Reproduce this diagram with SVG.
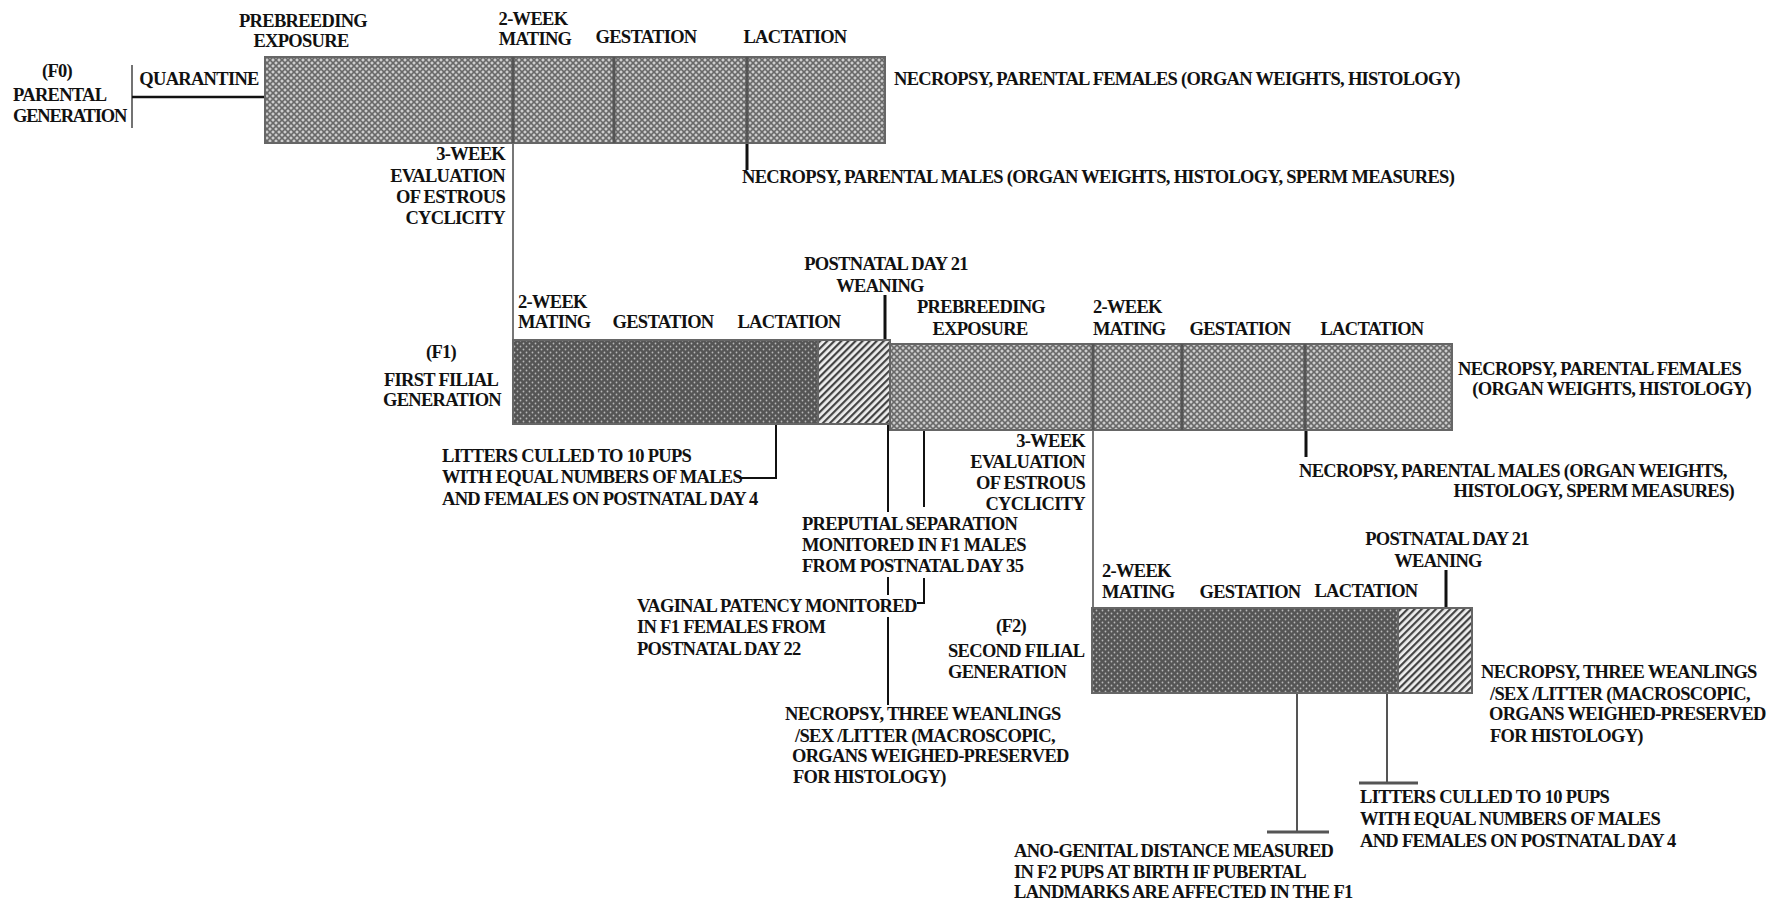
<svg xmlns="http://www.w3.org/2000/svg" width="1775" height="901" viewBox="0 0 1775 901">
<style>
.t{font-family:"Liberation Serif","Times New Roman",serif;font-weight:bold;font-size:18.5px;letter-spacing:-0.7px;fill:#111}
.m{text-anchor:middle}
.e{text-anchor:end}
.bar{stroke:#666;stroke-width:2}
.div{stroke:#555;stroke-width:3}
.blk{stroke:#111;stroke-width:2;fill:none}
.thk{stroke:#111;stroke-width:3;fill:none}
.gry{stroke:#777;stroke-width:2;fill:none}
.cap{stroke:#555;stroke-width:3;fill:none}
</style>
<defs>
<pattern id="cross" width="6" height="6" patternUnits="userSpaceOnUse">
<rect width="6" height="6" fill="#9c9c9c"/>
<path d="M0 0L6 6M6 0L0 6" stroke="#666" stroke-width="1.1"/>
<circle cx="3" cy="0" r="1" fill="#dcdcdc"/>
<circle cx="3" cy="6" r="1" fill="#dcdcdc"/>
<circle cx="0" cy="3" r="1" fill="#dcdcdc"/>
<circle cx="6" cy="3" r="1" fill="#dcdcdc"/>
</pattern>
<pattern id="dots" width="6" height="6" patternUnits="userSpaceOnUse">
<rect width="6" height="6" fill="#555"/>
<circle cx="1.5" cy="1.5" r="0.9" fill="#b8b8b8"/>
<circle cx="4.5" cy="4.5" r="0.9" fill="#b8b8b8"/>
</pattern>
<pattern id="hatch" width="5" height="5" patternUnits="userSpaceOnUse" patternTransform="rotate(45)">
<rect width="5" height="5" fill="#eee"/>
<rect x="0" y="0" width="2.2" height="5" fill="#444"/>
</pattern>
</defs>

<g id="connectors">
<line class="gry" x1="132" y1="65" x2="132" y2="128" style="stroke:#444;stroke-width:1.5"/>
<line class="thk" x1="132" y1="97" x2="265" y2="97" style="stroke-width:2.5"/>
<line class="gry" x1="513" y1="143" x2="513" y2="340"/>
<line class="thk" x1="747" y1="143" x2="747" y2="170"/>
<line class="thk" x1="885" y1="295" x2="885" y2="340"/>
<polyline class="blk" points="776,424 776,478 739,478"/>
<line class="blk" x1="888" y1="424" x2="888" y2="512"/>
<line class="blk" x1="924" y1="430" x2="924" y2="507"/>
<line class="blk" x1="888" y1="577" x2="888" y2="595"/>
<polyline class="blk" points="924,578 924,603 917,603"/>
<line class="blk" x1="888" y1="617" x2="888" y2="705"/>
<line class="gry" x1="1093" y1="430" x2="1093" y2="608"/>
<line class="thk" x1="1306" y1="430" x2="1306" y2="457"/>
<line class="thk" x1="1446" y1="570" x2="1446" y2="608"/>
<line class="gry" x1="1297" y1="693" x2="1297" y2="832" style="stroke:#555"/>
<line class="cap" x1="1267" y1="832" x2="1329" y2="832"/>
<line class="gry" x1="1387" y1="693" x2="1387" y2="783" style="stroke:#555"/>
<line class="cap" x1="1359" y1="783" x2="1418" y2="783"/>
</g>

<g id="f0-label">
<text class="t m" x="57" y="77">(F0)</text>
<text class="t" x="13" y="101">PARENTAL</text>
<text class="t" x="13" y="122" style="letter-spacing:-1.2px">GENERATION</text>
</g>
<g id="f0-quarantine"><text class="t m" x="199" y="85">QUARANTINE</text></g>
<g id="f0-bar">
<rect class="bar" x="265" y="57" width="620" height="86" fill="url(#cross)"/>
<line class="div" x1="513" y1="57" x2="513" y2="143"/>
<line class="div" x1="614" y1="57" x2="614" y2="143"/>
<line class="div" x1="747" y1="57" x2="747" y2="143"/>
</g>
<g id="f0-phases">
<text class="t m" x="303" y="27">PREBREEDING</text>
<text class="t m" x="301" y="47">EXPOSURE</text>
<text class="t m" x="533" y="25">2-WEEK</text>
<text class="t m" x="535" y="45">MATING</text>
<text class="t m" x="646" y="43">GESTATION</text>
<text class="t m" x="795" y="43">LACTATION</text>
</g>
<g id="f0-necropsy-females"><text class="t" x="894" y="85">NECROPSY, PARENTAL FEMALES (ORGAN WEIGHTS, HISTOLOGY)</text></g>
<g id="f0-necropsy-males"><text class="t" x="742" y="183">NECROPSY, PARENTAL MALES (ORGAN WEIGHTS, HISTOLOGY, SPERM MEASURES)</text></g>
<g id="f0-estrous">
<text class="t e" x="505" y="160">3-WEEK</text>
<text class="t e" x="505" y="182">EVALUATION</text>
<text class="t e" x="505" y="203">OF ESTROUS</text>
<text class="t e" x="505" y="224">CYCLICITY</text>
</g>

<g id="f1-label">
<text class="t m" x="441" y="358">(F1)</text>
<text class="t m" x="441" y="386">FIRST FILIAL</text>
<text class="t m" x="442" y="406">GENERATION</text>
</g>
<g id="f1-weaning">
<text class="t m" x="886" y="270">POSTNATAL DAY 21</text>
<text class="t m" x="880" y="292">WEANING</text>
</g>
<g id="f1-bar">
<rect class="bar" x="890" y="344" width="562" height="86" fill="url(#cross)"/>
<rect class="bar" x="513" y="340" width="305" height="84" fill="url(#dots)"/>
<rect class="bar" x="818" y="340" width="72" height="84" fill="url(#hatch)"/>
<line class="div" x1="1093" y1="344" x2="1093" y2="430"/>
<line class="div" x1="1182" y1="344" x2="1182" y2="430"/>
<line class="div" x1="1305" y1="344" x2="1305" y2="430"/>
</g>
<g id="f1-phases">
<text class="t" x="518" y="308">2-WEEK</text>
<text class="t" x="518" y="328">MATING</text>
<text class="t m" x="663" y="328">GESTATION</text>
<text class="t m" x="789" y="328">LACTATION</text>
<text class="t m" x="981" y="313">PREBREEDING</text>
<text class="t m" x="980" y="335">EXPOSURE</text>
<text class="t" x="1093" y="313">2-WEEK</text>
<text class="t" x="1093" y="335">MATING</text>
<text class="t m" x="1240" y="335">GESTATION</text>
<text class="t m" x="1372" y="335">LACTATION</text>
</g>
<g id="f1-necropsy-females">
<text class="t" x="1458" y="375">NECROPSY, PARENTAL FEMALES</text>
<text class="t e" x="1751" y="395">(ORGAN WEIGHTS, HISTOLOGY)</text>
</g>
<g id="f1-necropsy-males">
<text class="t" x="1299" y="477">NECROPSY, PARENTAL MALES (ORGAN WEIGHTS,</text>
<text class="t e" x="1734" y="497">HISTOLOGY, SPERM MEASURES)</text>
</g>
<g id="f1-estrous">
<text class="t e" x="1085" y="447">3-WEEK</text>
<text class="t e" x="1085" y="468">EVALUATION</text>
<text class="t e" x="1085" y="489">OF ESTROUS</text>
<text class="t e" x="1085" y="510">CYCLICITY</text>
</g>
<g id="f1-litters">
<text class="t" x="442" y="462">LITTERS CULLED TO 10 PUPS</text>
<text class="t" x="442" y="483">WITH EQUAL NUMBERS OF MALES</text>
<text class="t" x="442" y="505">AND FEMALES ON POSTNATAL DAY 4</text>
</g>
<g id="f1-preputial">
<text class="t" x="802" y="530">PREPUTIAL SEPARATION</text>
<text class="t" x="802" y="551">MONITORED IN F1 MALES</text>
<text class="t" x="802" y="572">FROM POSTNATAL DAY 35</text>
</g>
<g id="f1-vaginal">
<text class="t" x="637" y="612">VAGINAL PATENCY MONITORED</text>
<text class="t" x="637" y="633">IN F1 FEMALES FROM</text>
<text class="t" x="637" y="655">POSTNATAL DAY 22</text>
</g>
<g id="f1-weanling-necropsy">
<text class="t" x="785" y="720">NECROPSY, THREE WEANLINGS</text>
<text class="t" x="795" y="742">/SEX /LITTER (MACROSCOPIC,</text>
<text class="t" x="792" y="762">ORGANS WEIGHED-PRESERVED</text>
<text class="t" x="793" y="783">FOR HISTOLOGY)</text>
</g>

<g id="f2-label">
<text class="t m" x="1011" y="632">(F2)</text>
<text class="t" x="948" y="657">SECOND FILIAL</text>
<text class="t" x="948" y="678">GENERATION</text>
</g>
<g id="f2-weaning">
<text class="t m" x="1447" y="545">POSTNATAL DAY 21</text>
<text class="t m" x="1438" y="567">WEANING</text>
</g>
<g id="f2-bar">
<rect class="bar" x="1092" y="608" width="306" height="85" fill="url(#dots)"/>
<rect class="bar" x="1398" y="608" width="74" height="85" fill="url(#hatch)"/>
</g>
<g id="f2-phases">
<text class="t" x="1102" y="577">2-WEEK</text>
<text class="t" x="1102" y="598">MATING</text>
<text class="t m" x="1250" y="598">GESTATION</text>
<text class="t m" x="1366" y="597">LACTATION</text>
</g>
<g id="f2-weanling-necropsy">
<text class="t" x="1481" y="678">NECROPSY, THREE WEANLINGS</text>
<text class="t" x="1490" y="700">/SEX /LITTER (MACROSCOPIC,</text>
<text class="t" x="1489" y="720">ORGANS WEIGHED-PRESERVED</text>
<text class="t" x="1490" y="742">FOR HISTOLOGY)</text>
</g>
<g id="f2-litters">
<text class="t" x="1360" y="803">LITTERS CULLED TO 10 PUPS</text>
<text class="t" x="1360" y="825">WITH EQUAL NUMBERS OF MALES</text>
<text class="t" x="1360" y="847">AND FEMALES ON POSTNATAL DAY 4</text>
</g>
<g id="f2-anogenital">
<text class="t" x="1014" y="857">ANO-GENITAL DISTANCE MEASURED</text>
<text class="t" x="1014" y="878">IN F2 PUPS AT BIRTH IF PUBERTAL</text>
<text class="t" x="1014" y="898">LANDMARKS ARE AFFECTED IN THE F1</text>
</g>
</svg>
